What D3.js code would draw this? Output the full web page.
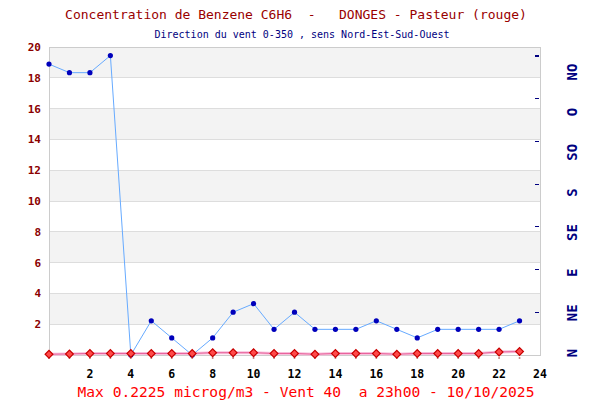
<!DOCTYPE html>
<html><head><meta charset="utf-8">
<script src="https://cdn.jsdelivr.net/npm/d3@7"></script>
<style>body{margin:0;background:#fff}svg{display:block}text{white-space:pre}</style>
</head><body><svg id="c" width="600" height="400"></svg>
<script>
const hours = d3.range(0, 24);
const benzene = [0.05,0.07,0.1,0.1,0.1,0.1,0.1,0.1,0.15,0.15,0.15,0.1,0.1,0.05,0.1,0.1,0.1,0.05,0.1,0.1,0.1,0.1,0.2,0.2225];
const wind = [340,330,330,350,0,40,20,0,20,50,60,30,50,30,30,30,40,30,20,30,30,30,30,40];
const yTicks = [2,4,6,8,10,12,14,16,18,20];
const xTicks = [2,4,6,8,10,12,14,16,18,20,22,24];
const dirLabels = ["N","NE","E","SE","S","SO","O","NO"];
const dirDegrees = [0,45,90,135,180,225,270,315];
const title = "Concentration de Benzene C6H6  -   DONGES - Pasteur (rouge)";
const subtitle = "Direction du vent 0-350 , sens Nord-Est-Sud-Ouest";
const footer = "Max 0.2225 microg/m3 - Vent 40  a 23h00 - 10/10/2025";

const svg = d3.select("#c");
const L = 49, R = 540, T = 47, B = 355;
const x = d3.scaleLinear().domain([0, 24]).range([L, R]);
const y = d3.scaleLinear().domain([0, 20]).range([B, T]);
const yw = d3.scaleLinear().domain([0, 360]).range([B, T]);
const ywTick = d3.scaleLinear().domain([0, 315]).range([B, 56]);
const ywLab = d3.scaleLinear().domain([0, 315]).range([353, 72]);
const mono = "'DejaVu Sans Mono', 'Liberation Mono', monospace";

// bands
const bands = d3.range(0, 20, 2);
svg.selectAll("rect.band").data(bands).join("rect")
  .attr("x", L).attr("width", R - L)
  .attr("y", d => y(d + 2)).attr("height", d => y(d) - y(d + 2))
  .attr("fill", (d, i) => i % 2 === 1 ? "#f3f3f3" : "#ffffff");
svg.selectAll("line.grid").data(yTicks).join("line")
  .attr("x1", L).attr("x2", R).attr("y1", d => y(d)).attr("y2", d => y(d))
  .attr("stroke", "#dddddd").attr("stroke-width", 1).attr("shape-rendering", "crispEdges");
svg.append("rect").attr("x", L).attr("y", T).attr("width", R - L).attr("height", B - T)
  .attr("fill", "none").attr("stroke", "#cccccc").attr("shape-rendering", "crispEdges");

// right ticks
svg.selectAll("line.rt").data(dirDegrees.slice(1)).join("line")
  .attr("x1", R - 5).attr("x2", R - 1).attr("y1", d => ywTick(d)).attr("y2", d => ywTick(d))
  .attr("stroke", "#000080").attr("stroke-width", 1.2).attr("shape-rendering", "crispEdges");

// left axis labels
svg.selectAll("text.yl").data(yTicks).join("text")
  .attr("x", 41).attr("y", d => y(d) + 4).attr("text-anchor", "end")
  .attr("font-family", mono).attr("font-size", 11).attr("font-weight", "bold")
  .attr("fill", "#8b0000").text(d => d);
// bottom labels
svg.selectAll("text.xl").data(xTicks).join("text")
  .attr("x", d => x(d)).attr("y", 378).attr("text-anchor", "middle")
  .attr("font-family", mono).attr("font-size", 11.5).attr("font-weight", "bold")
  .attr("fill", "#000").text(d => d);
// right direction labels
svg.selectAll("text.dl").data(dirDegrees).join("text")
  .attr("transform", (d) => `translate(577,${ywLab(d)}) rotate(-90)`)
  .attr("text-anchor", "middle")
  .attr("font-family", mono).attr("font-size", 14).attr("font-weight", "bold")
  .attr("fill", "#000080").text((d, i) => dirLabels[i]);

// wind line
const lineW = d3.line().x((d, i) => x(hours[i])).y(d => yw(d));
svg.append("path").datum(wind).attr("d", lineW)
  .attr("fill", "none").attr("stroke", "#66aaff").attr("stroke-width", 1);
svg.selectAll("circle.w").data(wind).join("circle")
  .attr("cx", (d, i) => x(hours[i])).attr("cy", d => yw(d)).attr("r", 2.6)
  .attr("fill", "#0000bb");

// benzene line
const lineB = d3.line().x((d, i) => x(hours[i])).y(d => y(d));
svg.append("path").datum(benzene).attr("d", lineB)
  .attr("fill", "none").attr("stroke", "#f8c0dc").attr("stroke-width", 3);
svg.append("path").datum(benzene).attr("d", lineB)
  .attr("fill", "none").attr("stroke", "#e8609a").attr("stroke-width", 1);
svg.selectAll("circle.bs").data(benzene).join("circle")
  .attr("cx", (d, i) => x(hours[i])).attr("cy", B + 3).attr("r", 1)
  .attr("fill", "#c08080");
svg.selectAll("path.bm").data(benzene).join("path")
  .attr("d", d3.symbol(d3.symbolSquare, 30))
  .attr("transform", (d, i) => `translate(${x(hours[i])},${y(d)}) rotate(45)`)
  .attr("fill", "#ff4a4a").attr("stroke", "#c80000").attr("stroke-width", 1.2);

// texts
svg.append("text").attr("x", 296).attr("y", 19).attr("text-anchor", "middle")
  .attr("font-family", mono).attr("font-size", 13).attr("fill", "#990000").text(title);
svg.append("text").attr("x", 302).attr("y", 38).attr("text-anchor", "middle")
  .attr("font-family", mono).attr("font-size", 10).attr("fill", "#000080").text(subtitle);
svg.append("text").attr("x", 306).attr("y", 397).attr("text-anchor", "middle")
  .attr("font-family", mono).attr("font-size", 14.6).attr("fill", "#ff0000").text(footer);
</script></body></html>
